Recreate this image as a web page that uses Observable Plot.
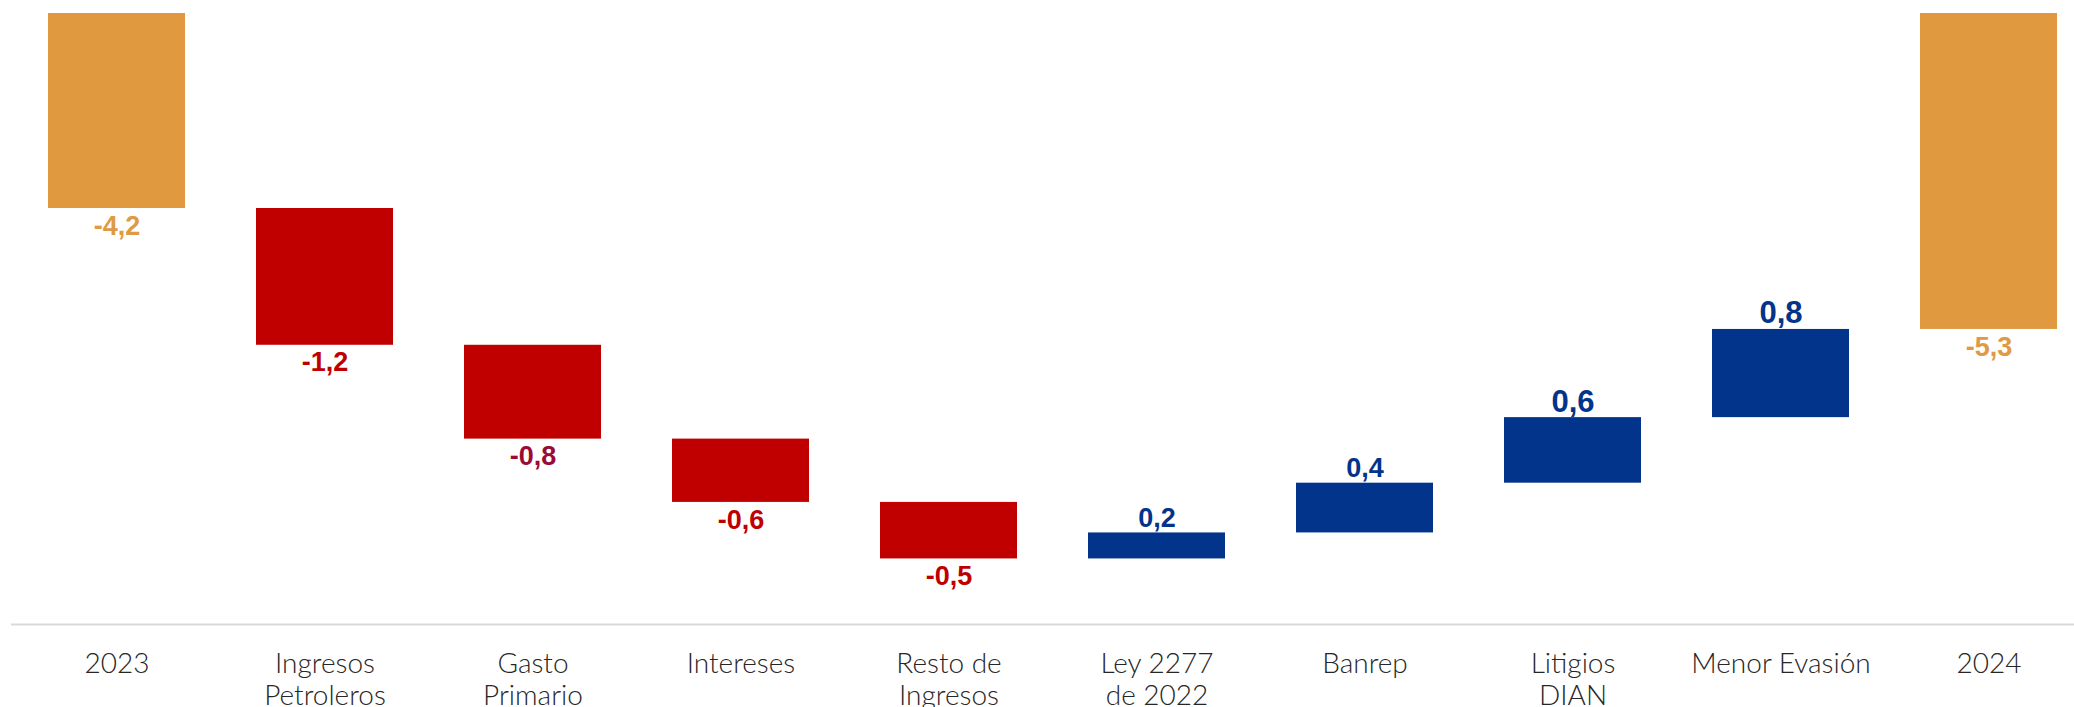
<!DOCTYPE html>
<html>
<head>
<meta charset="utf-8">
<script src="https://cdn.jsdelivr.net/npm/d3@7"></script>
<script src="https://cdn.jsdelivr.net/npm/@observablehq/plot@0.6"></script>
<style>
  html, body { margin: 0; padding: 0; background: #ffffff; }
  #chart svg { display: block; }
</style>
</head>
<body>
<div id="chart"></div>
<script>
// ---- Data ----
const categories = ["2023", "Ingresos Petroleros", "Gasto Primario", "Intereses", "Resto de Ingresos",
  "Ley 2277 de 2022", "Banrep", "Litigios DIAN", "Menor Evasión", "2024"];
const tickLabels = ["2023", "Ingresos\nPetroleros", "Gasto\nPrimario", "Intereses", "Resto de\nIngresos",
  "Ley 2277\nde 2022", "Banrep", "Litigios\nDIAN", "Menor Evasión", "2024"];
const totalCategories = ["2023", "2024"];
const totalValues = [-4.20, -5.27];
const stepCategories = ["Ingresos Petroleros", "Gasto Primario", "Intereses", "Resto de Ingresos",
  "Ley 2277 de 2022", "Banrep", "Litigios DIAN", "Menor Evasión"];
const stepValues = [-1.21, -0.83, -0.56, -0.50, 0.23, 0.44, 0.58, 0.78];
const yDomain = [-7.88, -2.475];

// ---- Build tables ----
const totals = totalCategories.map((c, i) => ({category: c, value: totalValues[i]}));
let running = totalValues[0];
const steps = stepCategories.map((c, i) => {
  const start = running;
  running = running + stepValues[i];
  return {category: c, value: stepValues[i], start, end: running};
});

const fmt = v => d3.format(".1f")(v).replace("\u2212", "-").replace(".", ",");
const orange = "#e0993f", red = "#c00000", blue = "#03348b";
const negLabelColor = d => (d.category === "Gasto Primario" ? "#9b0b35" : red);
const valueFont = "Liberation Sans, Arial, sans-serif";

const chart = Plot.plot({
  width: 2074,
  height: 707,
  marginTop: 13,
  marginBottom: 83,
  marginLeft: 11,
  marginRight: 0,
  x: {type: "band", domain: categories, paddingInner: 0.34, paddingOuter: 0.122, align: 0.69, axis: null},
  y: {domain: yDomain, axis: null},
  marks: [
    Plot.ruleY([yDomain[0]], {stroke: "#d9d9d9", strokeWidth: 2}),
    // total bars hang from the top of the frame
    Plot.barY(totals, {x: "category", y1: yDomain[1], y2: "value", fill: orange}),
    // step bars
    Plot.barY(steps, {x: "category", y1: "start", y2: "end", fill: d => d.value < 0 ? red : blue}),
    // total labels
    Plot.text(totals, {x: "category", y: "value", text: d => fmt(d.value), lineAnchor: "top", dy: 7,
      fill: "#e09a43", fontSize: 27, fontWeight: "bold", fontFamily: valueFont}),
    // negative step labels
    Plot.text(steps.filter(d => d.value < 0), {x: "category", y: "end", text: d => fmt(d.value), lineAnchor: "top", dy: 7,
      fill: negLabelColor, fontSize: 27, fontWeight: "bold", fontFamily: valueFont}),
    // positive step labels
    Plot.text(steps.filter(d => d.value > 0), {x: "category", y: "end", text: d => fmt(d.value), lineAnchor: "bottom", dy: -6,
      fill: blue, fontSize: d => (d.value > 0.5 ? 31 : 27), fontWeight: "bold", fontFamily: valueFont}),
    // category labels
    Plot.text(categories, {x: d => d, y: () => yDomain[0], text: (d, i) => tickLabels[i], lineAnchor: "top", dy: 26,
      lineHeight: 1.14, fill: "#262626", fontSize: 28, fontWeight: 300, fontFamily: "Lato, 'Noto Sans', sans-serif"})
  ]
});
document.getElementById("chart").appendChild(chart);
</script>
</body>
</html>
